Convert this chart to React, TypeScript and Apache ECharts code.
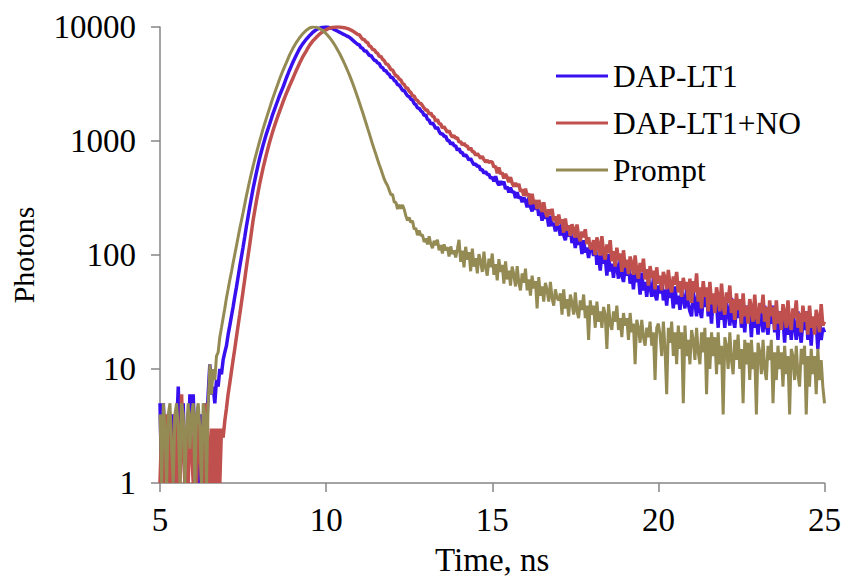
import React, { useEffect, useRef } from "react";
import * as echarts from "echarts";

// Time channels: first channel and channel width (ns)
const TIME_START = 5;
const TIME_STEP = 0.05;

const X_TICKS = [5, 10, 15, 20, 25];
const Y_TICKS = [1, 10, 100, 1000, 10000];

const SERIES_NAMES = ["DAP-LT1", "DAP-LT1+NO", "Prompt"];

// Photon counts, one per 0.05 ns channel from 5.00 to 25.00 ns
// (each row holds 0.5 ns)
const dapLt1 = [
  5, 1, 5, 2, 3, 1, 4, 2, 4, 1,
  3, 7, 2, 4, 5, 1, 3, 2, 6, 3,
  6, 2, 4, 1, 3, 4, 2, 5, 3, 6,
  11, 6, 7, 5, 8, 7, 10, 9, 12, 14,
  16, 20, 24, 29, 35, 43, 52, 64, 79, 96,
  117, 144, 178, 216, 263, 316, 380, 447, 525, 610,
  708, 804, 912, 1024, 1150, 1273, 1410, 1566, 1740, 1907,
  2090, 2290, 2510, 2721, 2950, 3236, 3550, 3861, 4200, 4537,
  4900, 5261, 5650, 6037, 6450, 6791, 7150, 7468, 7800, 8094,
  8400, 8695, 9000, 9222, 9450, 9609, 9770, 9850, 9930, 9965,
  10000, 9945, 9890, 9774, 9660, 9494, 9330, 9174, 9020, 8864,
  8710, 8559, 8410, 8269, 8130, 7897, 7670, 7452, 7240, 7037,
  6950, 6580, 6490, 6170, 6170, 5910, 5610, 5630, 5340, 5110,
  5060, 4835, 4775, 4470, 4395, 4145, 4130, 3920, 3830, 3600,
  3605, 3395, 3325, 3125, 3085, 2940, 2780, 2775, 2615, 2490,
  2455, 2330, 2285, 2130, 2080, 1955, 1935, 1840, 1795, 1675,
  1692, 1544, 1522, 1407, 1444, 1370, 1283, 1321, 1215, 1147,
  1163, 1096, 1102, 1005, 1012, 937, 970, 910, 905, 827,
  859, 792, 791, 736, 759, 723, 680, 704, 653, 619,
  629, 598, 605, 555, 563, 521, 540, 509, 509, 470,
  483, 442, 490, 436, 409, 444, 414, 440, 379, 398,
  353, 391, 353, 362, 316, 356, 314, 325, 290, 319,
  299, 262, 319, 264, 241, 280, 250, 284, 221, 243,
  200, 242, 208, 221, 178, 221, 180, 192, 161, 192,
  175, 148, 189, 150, 135, 165, 145, 171, 127, 144,
  115, 147, 123, 133, 102, 135, 105, 116, 94, 119,
  118, 98, 128, 82, 100, 73, 107, 84, 96, 66,
  102, 72, 84, 63, 91, 78, 62, 92, 67, 58,
  78, 66, 85, 56, 69, 50, 74, 58, 66, 45,
  70, 49, 58, 43, 62, 53, 43, 63, 45, 40,
  54, 46, 61, 40, 50, 36, 54, 42, 49, 34,
  53, 37, 44, 33, 48, 42, 34, 51, 37, 32,
  29, 47, 39, 29, 51, 33, 28, 43, 35, 50,
  29, 38, 25, 43, 32, 38, 23, 43, 27, 34,
  23, 38, 32, 24, 42, 27, 23, 35, 28, 41,
  23, 32, 21, 36, 26, 32, 19, 36, 23, 29,
  20, 33, 28, 21, 36, 24, 20, 31, 25, 36,
  21, 28, 18, 32, 23, 28, 17, 32, 20, 26,
  18, 29, 24, 18, 32, 21, 17, 27, 22, 32,
  18, 25, 16, 28, 21, 25, 15, 29, 18, 23,
  21,
];

const dapLt1No = [
  1, 3, 1, 2, 4, 1, 3, 1, 2, 4,
  1, 3, 1, 6, 2, 1, 3, 1, 4, 2,
  1, 3, 1, 4, 2, 1, 3, 1, 5, 2,
  1, 3, 1, 3, 1, 3, 1, 3, 2.5, 3.5,
  4.5, 6, 7.5, 9.5, 12, 15, 19, 24, 30, 38,
  48, 61, 78, 98, 123, 157, 200, 243, 295, 352,
  420, 491, 575, 661, 760, 863, 980, 1098, 1230, 1363,
  1510, 1658, 1820, 1996, 2190, 2386, 2600, 2816, 3050, 3290,
  3550, 3838, 4150, 4463, 4800, 5138, 5500, 5816, 6150, 6514,
  6900, 7218, 7550, 7820, 8100, 8371, 8650, 8872, 9100, 9274,
  9450, 9599, 9750, 9840, 9930, 9965, 10000, 10010, 10000, 9950,
  9900, 9835, 9770, 9660, 9550, 9390, 9230, 9020, 8810, 8610,
  8560, 8120, 7810, 7750, 7395, 7300, 6835, 6730, 6345, 6330,
  6005, 5865, 5510, 5515, 5200, 5060, 4755, 4705, 4480, 4230,
  4195, 3935, 3740, 3685, 3505, 3435, 3200, 3130, 2935, 2910,
  2740, 2660, 2490, 2480, 2315, 2270, 2150, 2135, 2045, 1940,
  1864, 1867, 1716, 1768, 1647, 1631, 1488, 1548, 1421, 1411,
  1301, 1336, 1265, 1191, 1233, 1141, 1084, 1112, 1056, 1071,
  976, 990, 921, 960, 905, 906, 836, 873, 806, 805,
  748, 776, 744, 705, 733, 684, 654, 678, 650, 660,
  652, 590, 601, 521, 585, 514, 527, 469, 514, 480,
  436, 482, 427, 398, 428, 398, 420, 360, 376, 331,
  382, 328, 346, 277, 345, 282, 303, 253, 303, 275,
  239, 290, 238, 216, 251, 225, 254, 198, 218, 181,
  226, 189, 205, 157, 209, 164, 182, 147, 186, 167,
  142, 185, 147, 132, 161, 143, 168, 125, 143, 114,
  115, 135, 100, 143, 123, 99, 146, 105, 91, 124,
  104, 135, 88, 108, 79, 116, 90, 103, 71, 110,
  78, 91, 68, 97, 83, 67, 99, 72, 62, 85,
  71, 93, 61, 75, 54, 80, 63, 73, 50, 78,
  56, 66, 49, 71, 62, 50, 74, 54, 47, 65,
  55, 71, 47, 59, 43, 63, 50, 58, 40, 62,
  38, 59, 47, 69, 39, 52, 34, 59, 43, 52,
  32, 58, 37, 46, 31, 52, 43, 32, 56, 36,
  30, 47, 38, 54, 31, 41, 27, 46, 33, 41,
  25, 46, 29, 36, 25, 41, 34, 26, 45, 29,
  25, 38, 31, 45, 26, 35, 23, 40, 29, 35,
  22, 40, 25, 32, 22, 37, 31, 23, 40, 26,
  22, 34, 28, 40, 23, 31, 21, 36, 26, 32,
  20, 36, 23, 29, 20, 33, 28, 21, 37, 24,
  26,
];

const prompt = [
  4, 1, 5, 3, 1, 4, 5, 2, 1, 4,
  5, 3, 1, 5, 4, 1, 3, 5, 2, 4,
  5, 1, 4, 5, 3, 1, 5, 4, 1, 5,
  11, 6, 10, 8, 13, 14, 19, 23, 28, 34,
  42, 50, 60, 71, 85, 101, 120, 143, 170, 200,
  235, 278, 330, 385, 450, 520, 600, 685, 780, 883,
  1000, 1127, 1270, 1416, 1580, 1755, 1950, 2163, 2400, 2638,
  2900, 3186, 3500, 3811, 4150, 4487, 4850, 5258, 5700, 6087,
  6500, 6888, 7300, 7663, 8050, 8393, 8750, 9045, 9350, 9573,
  9800, 9900, 10000, 9975, 9950, 9825, 9700, 9500, 9300, 9021,
  8750, 8419, 8100, 7742, 7400, 7015, 6650, 6264, 5900, 5512,
  5150, 4787, 4450, 4112, 3800, 3487, 3200, 2912, 2650, 2403,
  2180, 1970, 1780, 1600, 1440, 1290, 1160, 1040, 930, 840,
  760, 685, 620, 565, 510, 462, 430, 405, 370, 338,
  340, 290, 290, 253, 275, 255, 275, 252, 220, 201,
  213, 193, 200, 168, 172, 149, 164, 148, 150, 130,
  140, 124, 146, 125, 115, 133, 122, 136, 110, 122,
  103, 124, 110, 117, 97, 119, 102, 110, 95, 113,
  136, 87, 109, 78, 118, 91, 106, 72, 114, 79,
  94, 69, 102, 88, 71, 107, 77, 66, 93, 78,
  103, 67, 83, 60, 92, 71, 82, 56, 88, 61,
  73, 54, 79, 67, 53, 80, 57, 49, 69, 57,
  76, 49, 61, 44, 66, 51, 59, 34, 64, 44,
  53, 39, 57, 49, 39, 58, 42, 36, 50, 42,
  40, 46, 30, 50, 34, 41, 29, 45, 38, 30,
  47, 32, 28, 40, 33, 45, 28, 36, 18, 40,
  30, 36, 23, 39, 26, 32, 23, 35, 30, 15,
  37, 25, 22, 32, 26, 36, 22, 28, 19, 31,
  24, 28, 18, 31, 21, 25, 11, 27, 23, 17,
  27, 19, 16, 23, 19, 26, 16, 21, 8, 23,
  25, 20, 13, 26, 15, 6, 23, 17, 26, 13,
  21, 11, 24, 15, 21, 5, 24, 13, 18, 11,
  22, 18, 12, 23, 14, 11, 21, 14, 23, 6,
  19, 10, 21, 13, 19, 9, 21, 11, 16, 4,
  19, 16, 10, 21, 12, 9, 18, 12, 20, 10,
  15, 5, 18, 11, 17, 8, 18, 10, 14, 4,
  17, 14, 9, 18, 10, 8, 16, 12, 18, 5,
  14, 8, 16, 10, 14, 7, 16, 9, 13, 4,
  15, 13, 8, 16, 9, 7, 15, 11, 16, 4,
  13, 7, 15, 9, 13, 6, 15, 8, 12, 7,
  5,
];

const COLORS = ["#3810F0", "#C0504D", "#948A54"];
const WIDTHS = [3.5, 3.5, 3];

const FONT = "'Liberation Serif', 'Times New Roman', serif";

function toPairs(counts: number[]) {
  return counts.map((c, i) => [Math.round((TIME_START + i * TIME_STEP) * 1000) / 1000, c]);
}

export default function App() {
  const ref = useRef<HTMLDivElement>(null);

  useEffect(() => {
    document.body.style.margin = "0";
    if (!ref.current) return;
    const chart = echarts.init(ref.current, undefined, { renderer: "svg" });
    const all = [dapLt1, dapLt1No, prompt];
    const axisColor = "#868686";
    chart.setOption({
      animation: false,
      backgroundColor: "#ffffff",
      grid: { left: 157, right: 18, top: 27, bottom: 98, containLabel: false },
      legend: {
        orient: "vertical",
        left: 551,
        top: 55,
        icon: "rect",
        itemWidth: 52,
        itemHeight: 3,
        itemGap: 15,
        data: SERIES_NAMES,
        textStyle: { fontFamily: FONT, fontSize: 31.5, color: "#000", lineHeight: 32 },
      },
      xAxis: {
        type: "value",
        min: X_TICKS[0],
        max: X_TICKS[X_TICKS.length - 1],
        interval: 5,
        name: "Time, ns",
        nameLocation: "middle",
        nameGap: 60,
        nameTextStyle: { fontFamily: FONT, fontSize: 33, color: "#000" },
        axisLine: { show: true, lineStyle: { color: axisColor, width: 1.5 } },
        axisTick: { show: true, length: 9, inside: false, lineStyle: { color: axisColor, width: 1.5 } },
        axisLabel: {
          fontFamily: FONT,
          fontSize: 33,
          color: "#000",
          margin: 20,
        },
        splitLine: { show: false },
      },
      yAxis: {
        type: "log",
        logBase: 10,
        min: Y_TICKS[0],
        max: Y_TICKS[Y_TICKS.length - 1],
        name: "Photons",
        nameLocation: "middle",
        nameGap: 122,
        nameRotate: 90,
        nameTextStyle: { fontFamily: FONT, fontSize: 30, color: "#000" },
        axisLine: { show: true, lineStyle: { color: axisColor, width: 1.5 } },
        axisTick: { show: true, length: 9, inside: false, lineStyle: { color: axisColor, width: 1.5 } },
        axisLabel: {
          fontFamily: FONT,
          fontSize: 33,
          color: "#000",
          margin: 24,
          formatter: (v: number) => String(Math.round(v)),
        },
        splitLine: { show: false },
      },
      series: all.map((counts, k) => ({
        name: SERIES_NAMES[k],
        type: "line",
        data: toPairs(counts),
        showSymbol: false,
        symbol: "none",
        color: COLORS[k],
        lineStyle: { color: COLORS[k], width: WIDTHS[k] },
        z: 2 + k,
      })),
    });
    return () => chart.dispose();
  }, []);

  return (
    <div
      ref={ref}
      style={{ position: "absolute", left: 0, top: 0, width: 844, height: 581 }}
    />
  );
}
